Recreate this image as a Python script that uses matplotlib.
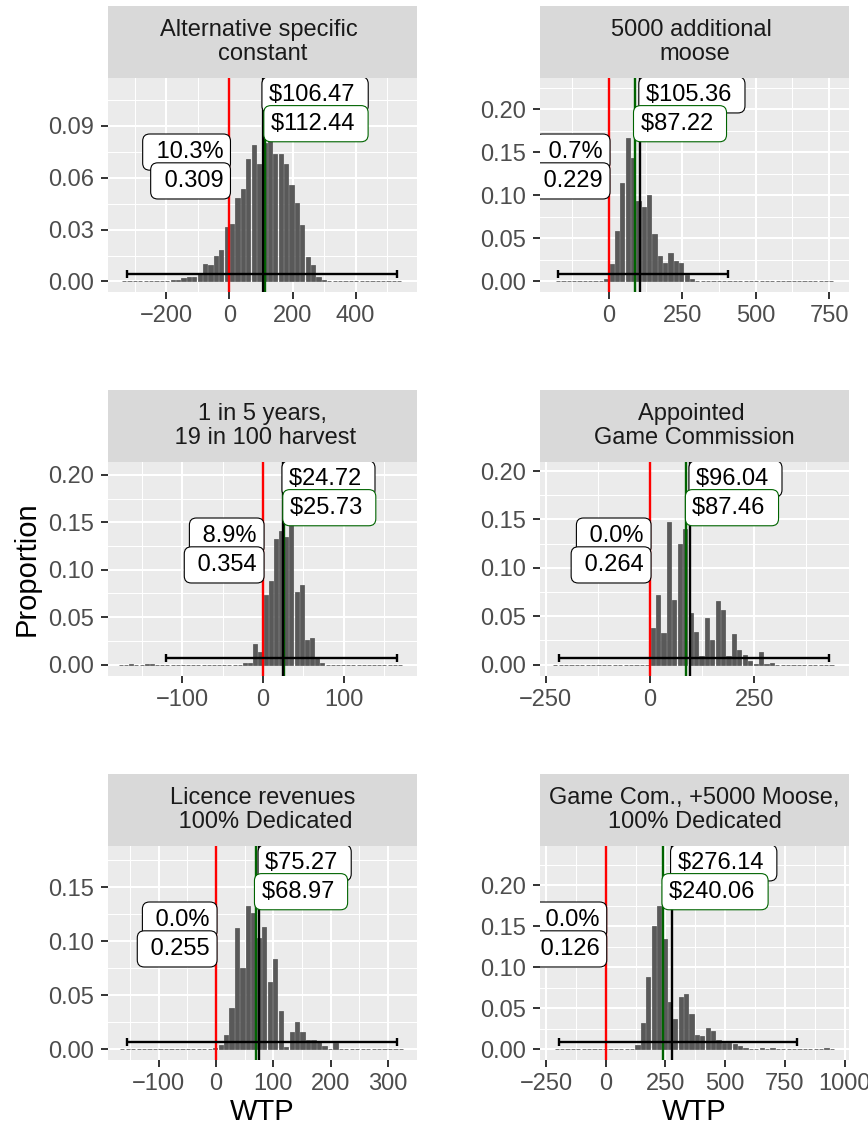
import numpy as np
import matplotlib
matplotlib.use("Agg")
import matplotlib.pyplot as plt
from matplotlib.ticker import FixedLocator, FuncFormatter

plt.rcParams['font.family'] = ['Liberation Sans', 'DejaVu Sans']

# ---------------- data ----------------
titles = ["Alternative specific \nconstant", "5000 additional \nmoose",
          "1 in 5 years,\n 19 in 100 harvest", "Appointed \nGame Commission",
          "Licence revenues\n 100% Dedicated", "Game Com., +5000 Moose,\n100% Dedicated"]

# histogram: first bin edge, bin width, proportions per bin
bin_start = [-342.0, -182.6, -178.6, -234.0, -168.4, -216.7]
bin_width = [17.1, 18.26, 6.38, 13.0, 9.54, 22.6]

h1 = [0]*9 + [0.001, 0.001, 0.002, 0.0025, 0.0025, 0.0048, 0.0102, 0.0098, 0.0145, 0.018,
              0.0315, 0.033, 0.048, 0.0537, 0.071, 0.0786, 0.068, 0.080, 0.082, 0.0736,
              0.0736, 0.068, 0.0556, 0.0454, 0.0324, 0.014, 0.0098, 0.0025, 0.001] + [0]*14
h2 = [0]*9 + [0.003, 0.0198, 0.0586, 0.1146, 0.1666, 0.143, 0.094, 0.086, 0.101, 0.055,
              0.030, 0.021, 0.033, 0.024, 0.021, 0.007, 0.003, 0.001] + \
     [0]*14 + [0.0008, 0, 0.0008, 0.0008, 0, 0.0008] + [0]*5
h3 = [0, 0, 0.0008, 0, 0, 0.0006, 0.0006, 0] + [0]*16 + \
     [0.0015, 0.002, 0.022, 0.013, 0.073, 0.0884, 0.1326, 0.141, 0.135, 0.155, 0.077, 0.084,
      0.026, 0.028, 0.007, 0.002] + [0]*15
h4 = [0]*18 + [0.0377, 0.072, 0.0326, 0.1475, 0.0669, 0.125, 0.14, 0.053, 0.034, 0.0086,
               0.048, 0.0257, 0.066, 0.0566, 0.009, 0.032, 0.0154, 0.0103, 0.0034, 0.0005,
               0.0127, 0.0005, 0.0017] + [0]*11
h5 = [0]*17 + [0.001, 0.004, 0.013, 0.038, 0.112, 0.0755, 0.1327, 0.1265, 0.1027, 0.1135,
               0.0625, 0.0835, 0.036, 0.002, 0.016, 0.025, 0.016, 0.0083, 0.0083, 0.0068,
               0.003, 0.0005, 0.006] + [0]*12
h6 = [0]*15 + [0.005, 0.032, 0.088, 0.15, 0.174, 0.135, 0.0577, 0.037, 0.064, 0.067, 0.043,
               0.018, 0.017, 0.026, 0.023, 0.012, 0.0077, 0.0077, 0.0065, 0.004, 0.002,
               0.001, 0.001, 0.0024, 0.001, 0.0024] + [0]*9 + [0.0012, 0]
heights = [h1, h2, h3, h4, h5, h6]

mean_wtp = [106.47, 105.36, 24.72, 96.04, 75.27, 276.14]      # black line / label
median_wtp = [112.44, 87.22, 25.73, 87.46, 68.97, 240.06]     # green line / label
pct_labels = ["10.3%", "0.7%", "8.9%", "0.0%", "0.0%", "0.0%"]
prob_labels = ["0.309", "0.229", "0.354", "0.264", "0.255", "0.126"]
ci_low = [-325.5, -173.0, -119.8, -218.4, -155.9, -195.6]
ci_high = [530.0, 406.8, 165.4, 430.3, 315.3, 799.8]

xlims = [(-384.7, 593.5), (-235, 818), (-191.4, 189.8), (-264, 477.6), (-188.5, 350.3), (-275, 1018.8)]
ylims = [(-0.0058, 0.1176), (-0.01165, 0.2365), (-0.0116, 0.2137), (-0.0113, 0.2093),
         (-0.0093, 0.1883), (-0.0122, 0.2476)]
xmajor = [[-200, 0, 200, 400], [0, 250, 500, 750], [-100, 0, 100], [-250, 0, 250],
          [-100, 0, 100, 200, 300], [-250, 0, 250, 500, 750, 1000]]
ymajor = [[0, 0.03, 0.06, 0.09], [0, 0.05, 0.10, 0.15, 0.20], [0, 0.05, 0.10, 0.15, 0.20],
          [0, 0.05, 0.10, 0.15, 0.20], [0, 0.05, 0.10, 0.15], [0, 0.05, 0.10, 0.15, 0.20]]

# ---------------- layout ----------------
W, H, DPI = 868, 1129, 100
fig = plt.figure(figsize=(W / DPI, H / DPI), dpi=DPI)
fig.patch.set_facecolor('white')

col_x = [108, 540]
col_w = [308.7, 309.0]
strip_top = [6, 390, 774]
strip_h = 72
panel_h = 213.5


def rect(x, y, w, h):
    return [x / W, 1 - (y + h) / H, w / W, h / H]


GRID = 'white'
LABEL_FS = 17

for i in range(6):
    r, c = divmod(i, 2)
    x0, w = col_x[c], col_w[c]
    st = strip_top[r]
    # strip
    sax = fig.add_axes(rect(x0, st, w, strip_h))
    sax.set_facecolor('#D9D9D9')
    sax.set_xticks([]); sax.set_yticks([])
    for s in sax.spines.values():
        s.set_visible(False)
    sax.text(0.5, 0.5, titles[i], ha='center', va='center', fontsize=17,
             color='#1A1A1A', linespacing=1.08, transform=sax.transAxes)

    ax = fig.add_axes(rect(x0, st + strip_h, w, panel_h))
    ax.set_facecolor('#EBEBEB')
    for s in ax.spines.values():
        s.set_visible(False)
    ax.set_axisbelow(True)

    xm = xmajor[i]
    step = xm[1] - xm[0]
    xmin_minor = np.arange(xm[0] - step / 2, xlims[i][1], step)
    xmin_minor = list(np.concatenate([[xm[0] - step / 2 - step * k for k in range(1, 3)], xmin_minor]))
    ym = ymajor[i]
    ystep = ym[1] - ym[0]
    ymin_minor = list(np.arange(ym[0] + ystep / 2, ylims[i][1], ystep))

    ax.xaxis.set_major_locator(FixedLocator(xm))
    ax.xaxis.set_minor_locator(FixedLocator(xmin_minor))
    ax.yaxis.set_major_locator(FixedLocator(ym))
    ax.yaxis.set_minor_locator(FixedLocator(ymin_minor))
    ax.xaxis.set_major_formatter(FuncFormatter(lambda v, p: f"{v:.0f}".replace('-', '\u2212')))
    ax.yaxis.set_major_formatter(FuncFormatter(lambda v, p: f"{v:.2f}"))
    ax.grid(which='major', color=GRID, linewidth=1.45)
    ax.grid(which='minor', color=GRID, linewidth=0.75)
    ax.tick_params(which='major', length=5.3, width=1.4, color='#333333',
                   labelsize=17, labelcolor='#4D4D4D', pad=4.5)
    ax.tick_params(which='minor', length=0)

    # histogram bars
    hts = np.array(heights[i])
    bw = bin_width[i]
    centers = bin_start[i] + bw * (np.arange(len(hts)) + 0.5)
    ax.bar(centers, hts, width=bw * 0.78, color='#595959', edgecolor='#595959',
           linewidth=0.55, zorder=2)

    # reference lines
    ax.axvline(0, color='red', linewidth=1.7, zorder=3)
    ax.axvline(median_wtp[i], color='#006400', linewidth=1.7, zorder=3)
    ax.axvline(mean_wtp[i], color='black', linewidth=1.7, zorder=3)

    ax.set_xlim(*xlims[i])
    ax.set_ylim(*ylims[i])

    # interval bar
    yb = ylims[i][0] + 0.08 * (ylims[i][1] - ylims[i][0])
    mid = (ci_low[i] + ci_high[i]) / 2
    half = (ci_high[i] - ci_low[i]) / 2
    ax.errorbar([mid], [yb], xerr=[[half], [half]], fmt='none', ecolor='black',
                elinewidth=1.7, capsize=2.8, capthick=1.7, zorder=4)

    tr = ax.get_xaxis_transform()
    pad = 0.3
    off = pad * LABEL_FS * 0.85
    box_k = dict(boxstyle=f'round,pad={pad},rounding_size=0.3', fc='white', ec='black', lw=0.8)
    box_g = dict(boxstyle=f'round,pad={pad},rounding_size=0.3', fc='white', ec='#006400', lw=0.8)
    ax.annotate(f"${mean_wtp[i]:.2f} ", xy=(mean_wtp[i], 0.921), xycoords=tr,
                xytext=(off, 0), textcoords='offset points', ha='left', va='center',
                fontsize=LABEL_FS, color='black', bbox=box_k, clip_on=True, zorder=5)
    ax.annotate(f"${median_wtp[i]:.2f} ", xy=(median_wtp[i], 0.786), xycoords=tr,
                xytext=(off, 0), textcoords='offset points', ha='left', va='center',
                fontsize=LABEL_FS, color='black', bbox=box_g, clip_on=True, zorder=6)
    ax.annotate(" " + pct_labels[i], xy=(0, 0.653), xycoords=tr,
                xytext=(-off, 0), textcoords='offset points', ha='right', va='center',
                fontsize=LABEL_FS, color='black', bbox=box_k, clip_on=True, zorder=5)
    ax.annotate(" " + prob_labels[i], xy=(0, 0.518), xycoords=tr,
                xytext=(-off, 0), textcoords='offset points', ha='right', va='center',
                fontsize=LABEL_FS, color='black', bbox=box_k, clip_on=True, zorder=6)

# axis titles
fig.text((col_x[0] + col_w[0] / 2) / W, 1 - 1112 / H, "WTP", ha='center', va='center',
         fontsize=21, color='black')
fig.text((col_x[1] + col_w[1] / 2) / W, 1 - 1112 / H, "WTP", ha='center', va='center',
         fontsize=21, color='black')
fig.text(27 / W, 1 - 568.5 / H, "Proportion", ha='center', va='center', rotation=90,
         fontsize=21, color='black')

fig.savefig("out.png", dpi=DPI, facecolor='white')
